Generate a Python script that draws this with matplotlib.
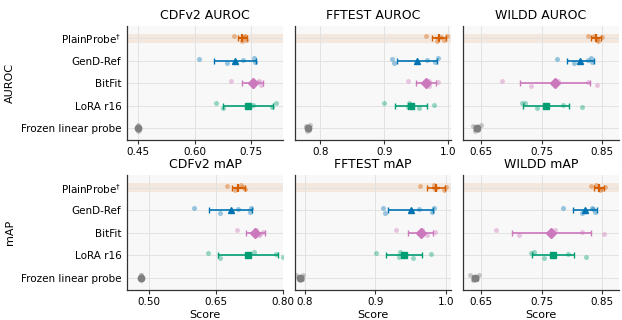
import numpy as np
import matplotlib
matplotlib.use('Agg')
import matplotlib.pyplot as plt

# Mètodes (de dalt a baix) i colors
methods = ['PlainProbe$^{\\dagger}$', 'GenD-Ref', 'BitFit', 'LoRA r16', 'Frozen linear probe']
colors = ['#d55e00', '#0173b2', '#cc78bc', '#029e73', '#7f7f7f']
markers = ['+', '^', 'D', 's', 'o']

# Valors per llavor (5 llavors per mètode), llegits de la figura
cdfv2_auroc = [[0.705, 0.727, 0.733, 0.738, 0.735],
               [0.611, 0.686, 0.728, 0.761, 0.759],
               [0.698, 0.757, 0.770, 0.777, 0.772],
               [0.656, 0.677, 0.757, 0.806, 0.817],
               [0.449, 0.450, 0.451, 0.452, 0.450]]
fftest_auroc = [[0.966, 0.983, 0.990, 0.994, 0.999],
                [0.912, 0.916, 0.967, 0.980, 0.984],
                [0.937, 0.971, 0.984, 0.967, 0.971],
                [0.900, 0.954, 0.979, 0.938, 0.939],
                [0.777, 0.779, 0.781, 0.782, 0.783]]
wildd_auroc = [[0.827, 0.844, 0.850, 0.842, 0.837],
               [0.775, 0.804, 0.827, 0.833, 0.831],
               [0.685, 0.732, 0.827, 0.841, 0.777],
               [0.718, 0.743, 0.786, 0.817, 0.722],
               [0.637, 0.640, 0.642, 0.644, 0.650]]
cdfv2_map = [[0.675, 0.692, 0.710, 0.714, 0.706],
             [0.601, 0.659, 0.698, 0.727, 0.728],
             [0.696, 0.746, 0.756, 0.749, 0.739],
             [0.631, 0.659, 0.785, 0.801, 0.736],
             [0.481, 0.482, 0.482, 0.483, 0.482]]
fftest_map = [[0.963, 0.997, 1.000, 0.985, 0.984],
              [0.911, 0.914, 0.962, 0.980, 0.984],
              [0.930, 0.973, 0.985, 0.966, 0.967],
              [0.901, 0.954, 0.979, 0.934, 0.935],
              [0.788, 0.793, 0.794, 0.796, 0.797]]
wildd_map = [[0.831, 0.847, 0.854, 0.850, 0.840],
             [0.786, 0.817, 0.835, 0.839, 0.833],
             [0.675, 0.712, 0.816, 0.853, 0.772],
             [0.733, 0.754, 0.793, 0.823, 0.737],
             [0.632, 0.636, 0.639, 0.642, 0.647]]

panels = [
    ('CDFv2 AUROC', cdfv2_auroc, (0.42, 0.836), [0.45, 0.60, 0.75], ['0.45', '0.60', '0.75']),
    ('FFTEST AUROC', fftest_auroc, (0.76, 1.005), [0.8, 0.9, 1.0], ['0.8', '0.9', '1.0']),
    ('WILDD AUROC', wildd_auroc, (0.62, 0.878), [0.65, 0.75, 0.85], ['0.65', '0.75', '0.85']),
    ('CDFv2 mAP', cdfv2_map, (0.45, 0.80), [0.50, 0.65, 0.80], ['0.50', '0.65', '0.80']),
    ('FFTEST mAP', fftest_map, (0.786, 1.0075), [0.8, 0.9, 1.0], ['0.8', '0.9', '1.0']),
    ('WILDD mAP', wildd_map, (0.62, 0.878), [0.65, 0.75, 0.85], ['0.65', '0.75', '0.85']),
]

# petit desplaçament vertical dels punts de cada llavor
jitter = np.array([-0.1, 0.11, -0.04, 0.07, -0.12])

fig, axes = plt.subplots(2, 3, figsize=(6.22, 3.2), dpi=100, sharey=True)
fig.subplots_adjust(left=0.2042, right=0.9952, top=0.9188, bottom=0.094,
                    wspace=0.077, hspace=0.305)

for ax, (title, data, xlim, ticks, ticklabels) in zip(axes.flat, panels):
    ax.set_facecolor('#f8f8f8')
    ax.axhspan(-0.2, 0.2, color='#d55e00', alpha=0.1, lw=0, zorder=0)
    for i, vals in enumerate(data):
        vals = np.array(vals)
        ax.scatter(vals, i + jitter, s=14, color=colors[i], alpha=0.4,
                   edgecolors='white', linewidths=0.3, zorder=2)
        m, sd = vals.mean(), vals.std()
        ax.errorbar(m, i, xerr=sd, color=colors[i], lw=1.2, capsize=2.5,
                    capthick=1.0, zorder=3)
        if markers[i] == '+':
            ax.plot(m, i, marker='+', ms=6, mew=1.6, color=colors[i], zorder=4)
        else:
            ax.plot(m, i, marker=markers[i], ms=4.6, color=colors[i], lw=0, zorder=4)
    ax.set_xlim(*xlim)
    ax.set_xticks(ticks)
    ax.set_xticklabels(ticklabels)
    ax.set_title(title, fontsize=9, pad=5)
    ax.grid(True, color='#e2e2e2', lw=0.7, zorder=0)
    ax.set_axisbelow(True)
    for s in ['top', 'right']:
        ax.spines[s].set_visible(False)
    for s in ['left', 'bottom']:
        ax.spines[s].set_color('#333333')
        ax.spines[s].set_linewidth(0.9)
    ax.tick_params(axis='x', labelsize=7.5, length=3, width=0.8, color='#333333', pad=2)
    ax.tick_params(axis='y', labelsize=7.5, length=0, pad=4)

axes[0, 0].set_yticks(range(len(methods)))
axes[0, 0].set_yticklabels(methods)
axes[0, 0].set_ylim(4.55, -0.55)
axes[0, 0].set_ylabel('AUROC', fontsize=8)
axes[1, 0].set_ylabel('mAP', fontsize=8)
for ax in axes[1]:
    ax.set_xlabel('Score', fontsize=8, labelpad=2)

plt.savefig('out.png', dpi=100)
